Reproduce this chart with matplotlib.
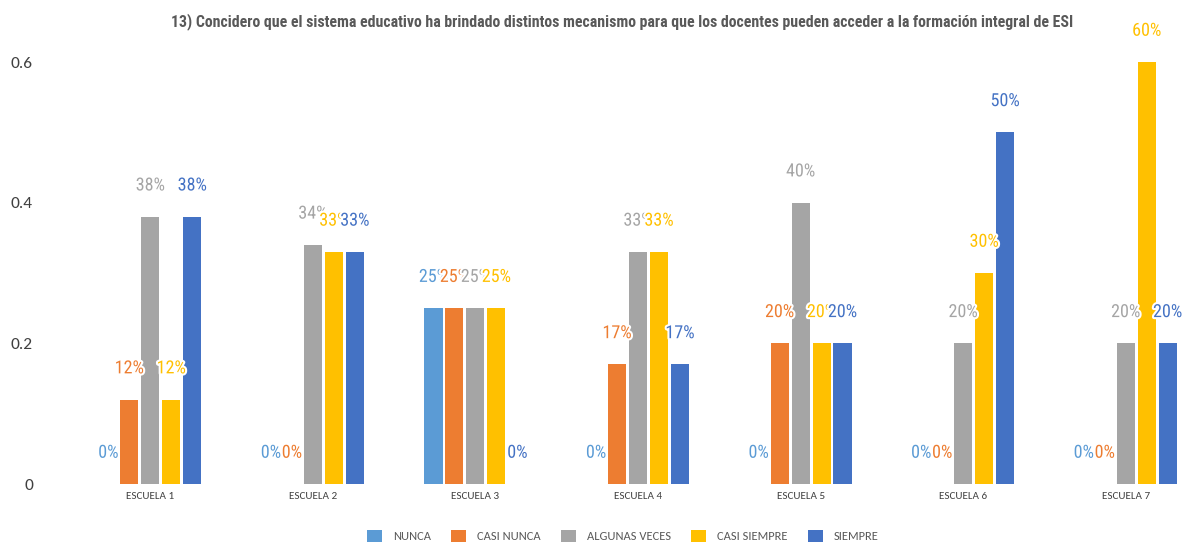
import matplotlib
matplotlib.use("Agg")
import matplotlib.pyplot as plt
import matplotlib.patheffects as pe
from matplotlib import font_manager
from matplotlib.patches import Patch
import numpy as np

schools = ["ESCUELA 1", "ESCUELA 2", "ESCUELA 3", "ESCUELA 4", "ESCUELA 5", "ESCUELA 6", "ESCUELA 7"]
series_names = ["NUNCA", "CASI NUNCA", "ALGUNAS VECES", "CASI SIEMPRE", "SIEMPRE"]
nunca        = [0.00, 0.00, 0.25, 0.00, 0.00, 0.00, 0.00]
casi_nunca   = [0.12, 0.00, 0.25, 0.17, 0.20, 0.00, 0.00]
algunas      = [0.38, 0.34, 0.25, 0.33, 0.40, 0.20, 0.20]
casi_siempre = [0.12, 0.33, 0.25, 0.33, 0.20, 0.30, 0.60]
siempre      = [0.38, 0.33, 0.00, 0.17, 0.20, 0.50, 0.20]
yticks = [0, 0.2, 0.4, 0.6]
ytick_labels = ["0", "0.2", "0.4", "0.6"]
title = ("13) Concidero que el sistema educativo ha brindado distintos mecanismo "
         "para que los docentes pueden acceder a la formación integral de ESI")

colors = ["#5B9BD5", "#ED7D31", "#A5A5A5", "#FFC000", "#4472C4"]
values = [nunca, casi_nunca, algunas, casi_siempre, siempre]

available = {f.name for f in font_manager.fontManager.ttflist}


def pick(*names):
    for n in names:
        if n in available:
            return n
    return "Liberation Sans"


title_font = pick("Arial Narrow", "Liberation Sans Narrow", "Roboto Condensed", "Archivo Narrow",
                  "PT Sans Narrow", "Open Sans Condensed")
label_font = pick("Roboto Condensed", "Archivo Narrow", "IBM Plex Sans Condensed", "Open Sans Condensed")
body_font = pick("Carlito", "Calibri", "Open Sans")

W, H = 1185, 544
fig = plt.figure(figsize=(W / 100, H / 100), dpi=100)
# plot area in pixels: left 69, right 1207 (runs past the right edge), y=0 at 484
left_px, right_px, base_px, top_px = 69, 1207, 484, 20
ax = fig.add_axes([left_px / W, (H - base_px) / H, (right_px - left_px) / W, (base_px - top_px) / H])
ax.set_xlim(-0.5, 6.5)
ymax = 0.6 * (base_px - top_px) / (484 - 62)
ax.set_ylim(0, ymax)

x = np.arange(len(schools))
step = 0.129
width = 0.111
for i, (name, vals, c) in enumerate(zip(series_names, values, colors)):
    xs = x + (i - 2) * step
    ax.bar(xs, vals, width=width, color=c, label=name, zorder=2)
for i, (vals, c) in enumerate(zip(values, colors)):
    xs = x + (i - 2) * step
    for xi, v in zip(xs, vals):
        ax.annotate(f"{round(v * 100):d}%", (xi, v), xytext=(0, 22.5), textcoords="offset points",
                    ha="center", va="center", fontsize=13, color=c, family=label_font, zorder=5,
                    path_effects=[pe.withStroke(linewidth=3, foreground="white")])

for s in ax.spines.values():
    s.set_visible(False)
ax.set_yticks(yticks)
ax.set_yticklabels(ytick_labels, fontsize=12.5, color="#404040", family=body_font)
ax.tick_params(axis="y", length=0, pad=26)
ax.set_xticks(x)
ax.set_xticklabels(schools, fontsize=8, color="#404040", family=body_font)
ax.tick_params(axis="x", length=0, pad=6)

# title sized so that it spans about 900 px
ttl = fig.text(622 / W, 1 - 22 / H, title, ha="center", va="center", fontsize=11,
               fontweight="bold", color="#595959", family=title_font)
renderer = fig.canvas.get_renderer()
tw = ttl.get_window_extent(renderer).width
ttl.set_fontsize(11 * 900 / tw)

handles = [Patch(facecolor=c, edgecolor="none") for c in colors]
leg = fig.legend(handles, series_names, loc="center", bbox_to_anchor=(623 / W, 1 - 536 / H),
                 ncol=5, frameon=False, handlelength=1.2, handleheight=1.2,
                 columnspacing=1.6, handletextpad=0.88, prop={"family": body_font, "size": 9})
for t in leg.get_texts():
    t.set_color("#595959")

fig.savefig("out.png", dpi=100)
